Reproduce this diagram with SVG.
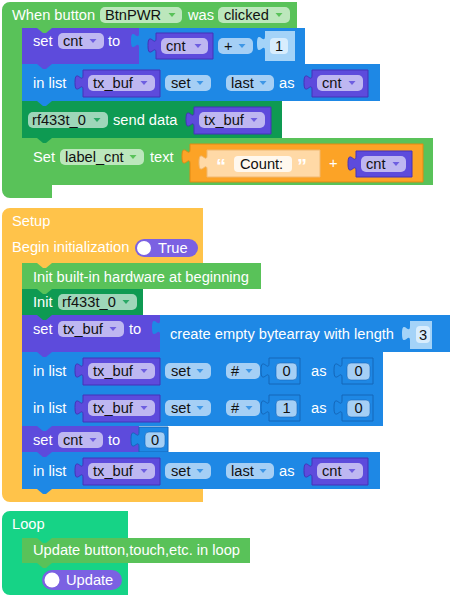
<svg xmlns="http://www.w3.org/2000/svg" width="457" height="601" viewBox="0 0 457 601">
<style>
text{font-family:"Liberation Sans",Arial,sans-serif;font-size:14.67px}
.w{fill:#fff}
.k{fill:#111}
.m{text-anchor:middle}
.pl{fill:#fff;fill-opacity:.6}
.g{fill:#59c259}
.dg{fill:#0e9a52}
.p{fill:#5d4bdc}
.b{fill:#1e88e5}
.y{fill:#ffc34a}
.t{fill:#16d386}
.o{fill:#fca326;stroke:#e08a12;stroke-width:1}
.lo{fill:#ffd9a6;stroke:#f0b870;stroke-width:1}
.v{fill:#5d4bdc;stroke:#4433b8;stroke-width:1}
.nb{fill:#1e88e5;stroke:#1566b8;stroke-width:1}
.nl{fill:#a4d3f8}
.fl{fill:#d8edfd}
.fb{fill:#a5cff5;stroke:#1566b8;stroke-width:.6}
.tg{fill:#7b61e2}
.ap{fill:#6e5ee0}
.ab{fill:#3f97e6}
.ag{fill:#59c259}
.ad{fill:#2aa865}
</style>
<g id="connectors"></g>

<g id="event_button_clicked">
<path class="g" d="M2,10 a8,8 0 0 1 8,-8 H297 V28 H22 V185 H52 V198 H10 a8,8 0 0 1 -8,-8 Z"/>
<text class="w" x="12" y="20">When button</text>
<rect class="pl" x="100" y="7" width="82" height="16" rx="5"/>
<text class="k" x="105" y="20">BtnPWR</text>
<path class="ag" d="M168.5,13 h7 l-3.5,4 z"/>
<text class="w" x="188" y="20">was</text>
<rect class="pl" x="218" y="7" width="72" height="16" rx="5"/>
<text class="k" x="224" y="20">clicked</text>
<path class="ag" d="M275.5,13 h7 l-3.5,4 z"/>
</g>

<g id="set_cnt_plus">
<rect class="p" x="22" y="28" width="117" height="36"/>
<path class="g" d="M37,28 l6,5 h3 l6,-5 z"/>
<text class="w" x="33" y="46">set</text>
<rect class="pl" x="58" y="33" width="46" height="16" rx="5"/>
<text class="k" x="63" y="46">cnt</text>
<path class="ap" d="M89.5,39 h7 l-3.5,4 z"/>
<text class="w" x="108" y="46">to</text>
<path class="b" d="M139,28 H305 V64 H139 V48 c0,-10 -8,8 -8,-7.5 s8,2.5 8,-7.5 Z"/>
<path class="v" d="M156,33 H213 V59 H156 V53 c0,-10 -8,8 -8,-7.5 s8,2.5 8,-7.5 Z"/>
<rect class="pl" x="161" y="38" width="47" height="16" rx="5"/>
<text class="k" x="166" y="51">cnt</text>
<path class="ap" d="M194.5,44 h7 l-3.5,4 z"/>
<rect class="pl" x="218" y="38" width="35" height="16" rx="5"/>
<text class="k" x="224" y="51">+</text>
<path class="ab" d="M238.5,44 h7 l-3.5,4 z"/>
<path class="nl" d="M265,31 H295 V61 H265 V51 c0,-10 -8,8 -8,-7.5 s8,2.5 8,-7.5 Z"/>
<rect class="fl" x="270" y="38" width="18" height="16" rx="4"/>
<text class="k m" x="279" y="51">1</text>
</g>

<g id="list_set_last_1">
<rect class="b" x="22" y="64" width="358" height="37"/>
<path class="p" d="M37,64 l6,5 h3 l6,-5 z"/>
<text class="w" x="33" y="88">in list</text>
<path class="v" d="M83,70 H160 V97 H83 V90 c0,-10 -8,8 -8,-7.5 s8,2.5 8,-7.5 Z"/>
<rect class="pl" x="88" y="75" width="67" height="16" rx="5"/>
<text class="k" x="93" y="88">tx_buf</text>
<path class="ap" d="M140.5,81 h7 l-3.5,4 z"/>
<rect class="pl" x="165" y="75" width="46" height="16" rx="5"/>
<text class="k" x="171" y="88">set</text>
<path class="ab" d="M196.5,81 h7 l-3.5,4 z"/>
<rect class="pl" x="226" y="75" width="48" height="16" rx="5"/>
<text class="k" x="231" y="88">last</text>
<path class="ab" d="M259.5,81 h7 l-3.5,4 z"/>
<text class="w" x="279" y="88">as</text>
<path class="v" d="M312,70 H368 V97 H312 V90 c0,-10 -8,8 -8,-7.5 s8,2.5 8,-7.5 Z"/>
<rect class="pl" x="317" y="75" width="46" height="16" rx="5"/>
<text class="k" x="322" y="88">cnt</text>
<path class="ap" d="M348.5,81 h7 l-3.5,4 z"/>
</g>

<g id="rf433_send">
<rect class="dg" x="22" y="101" width="260" height="37"/>
<path class="b" d="M37,101 l6,5 h3 l6,-5 z"/>
<rect class="pl" x="28" y="112" width="80" height="16" rx="5"/>
<text class="k" x="32" y="125">rf433t_0</text>
<path class="ad" d="M93.5,118 h7 l-3.5,4 z"/>
<text class="w" x="113" y="125">send data</text>
<path class="v" d="M194,107 H271 V134 H194 V127 c0,-10 -8,8 -8,-7.5 s8,2.5 8,-7.5 Z"/>
<rect class="pl" x="199" y="112" width="66" height="16" rx="5"/>
<text class="k" x="204" y="125">tx_buf</text>
<path class="ap" d="M250.5,118 h7 l-3.5,4 z"/>
</g>

<g id="set_label_text">
<rect class="g" x="22" y="138" width="411" height="47"/>
<path class="dg" d="M37,138 l6,5 h3 l6,-5 z"/>
<text class="w" x="33" y="162">Set</text>
<rect class="pl" x="60" y="149" width="84" height="16" rx="5"/>
<text class="k" x="65" y="162">label_cnt</text>
<path class="ag" d="M129.5,155 h7 l-3.5,4 z"/>
<text class="w" x="150" y="162">text</text>
<path class="o" d="M190,144 H423 V182 H190 V164 c0,-10 -8,8 -8,-7.5 s8,2.5 8,-7.5 Z"/>
<path class="lo" d="M207,150 H320 V177 H207 V170 c0,-10 -8,8 -8,-7.5 s8,2.5 8,-7.5 Z"/>
<text class="w" x="216" y="173" style="font-size:20px;font-weight:bold">“</text>
<rect x="234" y="156" width="58" height="16" rx="4" fill="#fff8ee"/>
<text class="k" x="240" y="169">Count:</text>
<text class="w" x="297" y="173" style="font-size:20px;font-weight:bold">”</text>
<text class="w" x="329" y="168">+</text>
<path class="v" d="M356,151 H412 V177 H356 V171 c0,-10 -8,8 -8,-7.5 s8,2.5 8,-7.5 Z"/>
<rect class="pl" x="361" y="156" width="45" height="16" rx="5"/>
<text class="k" x="366" y="169">cnt</text>
<path class="ap" d="M392.5,162 h7 l-3.5,4 z"/>
</g>

<g id="setup">
<path class="y" d="M2,216 a8,8 0 0 1 8,-8 H203 V263 H22 V489 H203 V502 H10 a8,8 0 0 1 -8,-8 Z"/>
<text class="w" x="12" y="226">Setup</text>
<text class="w" x="12" y="252">Begin initialization</text>
<rect class="tg" x="135" y="239" width="63" height="18" rx="9"/>
<circle cx="144" cy="248" r="7" fill="#fff"/>
<text class="w" x="158" y="253">True</text>
</g>

<g id="init_builtin">
<rect class="g" x="22" y="263" width="239" height="26"/>
<path class="y" d="M37,263 l6,5 h3 l6,-5 z"/>
<text class="w" x="33" y="282">Init built-in hardware at beginning</text>
</g>

<g id="init_rf433">
<rect class="dg" x="22" y="289" width="121" height="26"/>
<path class="g" d="M37,289 l6,5 h3 l6,-5 z"/>
<text class="w" x="33" y="307">Init</text>
<rect class="pl" x="58" y="294" width="79" height="16" rx="5"/>
<text class="k" x="62" y="307">rf433t_0</text>
<path class="ad" d="M122.5,300 h7 l-3.5,4 z"/>
</g>

<g id="set_txbuf">
<rect class="p" x="22" y="315" width="138" height="37"/>
<path class="dg" d="M37,315 l6,5 h3 l6,-5 z"/>
<text class="w" x="33" y="334">set</text>
<rect class="pl" x="58" y="321" width="66" height="16" rx="5"/>
<text class="k" x="63" y="334">tx_buf</text>
<path class="ap" d="M109.5,327 h7 l-3.5,4 z"/>
<text class="w" x="129" y="334">to</text>
<path class="b" d="M160,315 H450 V352 H160 V335 c0,-10 -8,8 -8,-7.5 s8,2.5 8,-7.5 Z"/>
<text class="w" x="170" y="339">create empty bytearray with length</text>
<path class="nl" d="M410,321 H432 V349 H410 V341 c0,-10 -8,8 -8,-7.5 s8,2.5 8,-7.5 Z"/>
<rect class="fl" x="416" y="326" width="14" height="17" rx="4"/>
<text class="k m" x="423" y="340">3</text>
</g>

<g id="list_set_0">
<rect class="b" x="22" y="352" width="361" height="37"/>
<path class="p" d="M37,352 l6,5 h3 l6,-5 z"/>
<text class="w" x="33" y="376">in list</text>
<path class="v" d="M83,358 H160 V385 H83 V378 c0,-10 -8,8 -8,-7.5 s8,2.5 8,-7.5 Z"/>
<rect class="pl" x="88" y="363" width="67" height="16" rx="5"/>
<text class="k" x="93" y="376">tx_buf</text>
<path class="ap" d="M140.5,369 h7 l-3.5,4 z"/>
<rect class="pl" x="165" y="363" width="46" height="16" rx="5"/>
<text class="k" x="171" y="376">set</text>
<path class="ab" d="M196.5,369 h7 l-3.5,4 z"/>
<rect class="pl" x="226" y="363" width="34" height="16" rx="5"/>
<text class="k" x="231" y="376">#</text>
<path class="ab" d="M245.5,369 h7 l-3.5,4 z"/>
<path class="nb" d="M269,358 H300 V384 H269 V378 c0,-10 -8,8 -8,-7.5 s8,2.5 8,-7.5 Z"/>
<rect class="fb" x="276" y="363" width="21" height="17" rx="4"/>
<text class="k m" x="286.5" y="376">0</text>
<text class="w" x="311" y="376">as</text>
<path class="nb" d="M342,358 H373 V384 H342 V378 c0,-10 -8,8 -8,-7.5 s8,2.5 8,-7.5 Z"/>
<rect class="fb" x="347" y="363" width="23" height="17" rx="4"/>
<text class="k m" x="358.5" y="376">0</text>
</g>

<g id="list_set_1">
<rect class="b" x="22" y="389" width="361" height="37"/>
<text class="w" x="33" y="413">in list</text>
<path class="v" d="M83,395 H160 V422 H83 V415 c0,-10 -8,8 -8,-7.5 s8,2.5 8,-7.5 Z"/>
<rect class="pl" x="88" y="400" width="67" height="16" rx="5"/>
<text class="k" x="93" y="413">tx_buf</text>
<path class="ap" d="M140.5,406 h7 l-3.5,4 z"/>
<rect class="pl" x="165" y="400" width="46" height="16" rx="5"/>
<text class="k" x="171" y="413">set</text>
<path class="ab" d="M196.5,406 h7 l-3.5,4 z"/>
<rect class="pl" x="226" y="400" width="34" height="16" rx="5"/>
<text class="k" x="231" y="413">#</text>
<path class="ab" d="M245.5,406 h7 l-3.5,4 z"/>
<path class="nb" d="M269,395 H300 V421 H269 V415 c0,-10 -8,8 -8,-7.5 s8,2.5 8,-7.5 Z"/>
<rect class="fb" x="276" y="400" width="21" height="17" rx="4"/>
<text class="k m" x="286.5" y="413">1</text>
<text class="w" x="311" y="413">as</text>
<path class="nb" d="M342,395 H373 V421 H342 V415 c0,-10 -8,8 -8,-7.5 s8,2.5 8,-7.5 Z"/>
<rect class="fb" x="347" y="400" width="23" height="17" rx="4"/>
<text class="k m" x="358.5" y="413">0</text>
</g>

<g id="set_cnt_0">
<rect class="p" x="22" y="426" width="117" height="26"/>
<path class="b" d="M37,426 l6,5 h3 l6,-5 z"/>
<text class="w" x="33" y="445">set</text>
<rect class="pl" x="58" y="432" width="45" height="16" rx="5"/>
<text class="k" x="63" y="445">cnt</text>
<path class="ap" d="M89.5,438 h7 l-3.5,4 z"/>
<text class="w" x="108" y="445">to</text>
<path class="nb" d="M139,427 H168 V452 H139 V447 c0,-10 -8,8 -8,-7.5 s8,2.5 8,-7.5 Z"/>
<rect class="fb" x="145" y="432" width="20" height="16" rx="4"/>
<text class="k m" x="155" y="445">0</text>
</g>

<g id="list_set_last_2">
<rect class="b" x="22" y="452" width="358" height="37"/>
<path class="p" d="M37,452 l6,5 h3 l6,-5 z"/>
<path class="b" d="M37,489 l6,5 h3 l6,-5 z"/>
<text class="w" x="33" y="476">in list</text>
<path class="v" d="M83,458 H160 V485 H83 V478 c0,-10 -8,8 -8,-7.5 s8,2.5 8,-7.5 Z"/>
<rect class="pl" x="88" y="463" width="67" height="16" rx="5"/>
<text class="k" x="93" y="476">tx_buf</text>
<path class="ap" d="M140.5,469 h7 l-3.5,4 z"/>
<rect class="pl" x="165" y="463" width="46" height="16" rx="5"/>
<text class="k" x="171" y="476">set</text>
<path class="ab" d="M196.5,469 h7 l-3.5,4 z"/>
<rect class="pl" x="226" y="463" width="48" height="16" rx="5"/>
<text class="k" x="231" y="476">last</text>
<path class="ab" d="M259.5,469 h7 l-3.5,4 z"/>
<text class="w" x="279" y="476">as</text>
<path class="v" d="M312,458 H368 V485 H312 V478 c0,-10 -8,8 -8,-7.5 s8,2.5 8,-7.5 Z"/>
<rect class="pl" x="317" y="463" width="46" height="16" rx="5"/>
<text class="k" x="322" y="476">cnt</text>
<path class="ap" d="M348.5,469 h7 l-3.5,4 z"/>
</g>

<g id="loop">
<path class="t" d="M2,519 a8,8 0 0 1 8,-8 H128 V538 H22 V563 H128 V595 H10 a8,8 0 0 1 -8,-8 Z"/>
<text class="w" x="12" y="529">Loop</text>
<rect class="tg" x="42" y="570" width="80" height="20" rx="10"/>
<circle cx="52" cy="580" r="7.5" fill="#fff"/>
<text class="w" x="66" y="585">Update</text>
</g>

<g id="update_loop">
<rect class="g" x="22" y="538" width="228" height="25"/>
<path class="t" d="M37,538 l6,5 h3 l6,-5 z"/>
<path class="g" d="M37,563 l6,5 h3 l6,-5 z"/>
<text class="w" x="33" y="555">Update button,touch,etc. in loop</text>
</g>
</svg>
